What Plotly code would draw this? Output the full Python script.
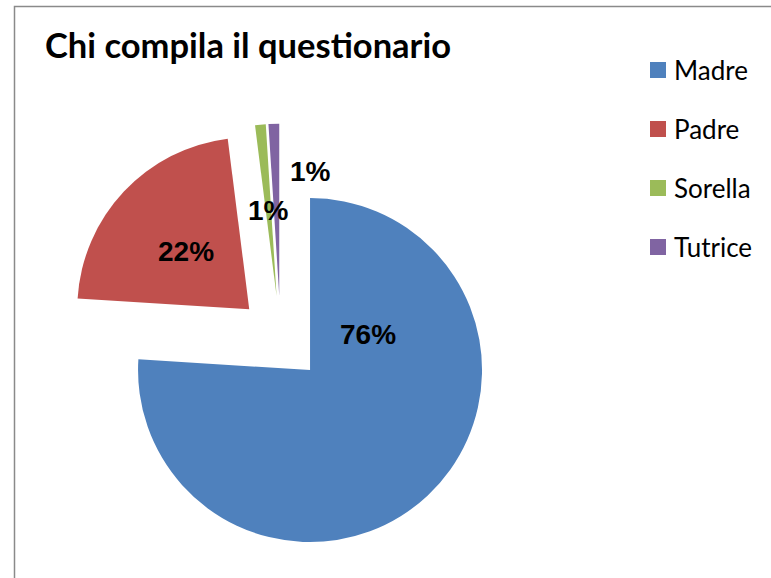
import plotly.graph_objects as go

# Who fills in the questionnaire
labels = ["Madre", "Padre", "Sorella", "Tutrice"]
values = [76, 22, 1, 1]
colors = ["#4F81BD", "#C0504D", "#9BBB59", "#8064A2"]

# where each percentage label sits (paper coordinates)
label_pos = [(368 / 771, 1 - 334 / 578), (186 / 771, 1 - 251 / 578),
             (268 / 771, 1 - 211 / 578), (310 / 771, 1 - 171 / 578)]

W, H = 771, 578

fig = go.Figure(go.Pie(
    labels=labels,
    values=values,
    marker=dict(colors=colors, line=dict(width=0)),
    sort=False,
    direction="clockwise",
    rotation=0,
    pull=[0.25] * len(values),
    textinfo="none",
    showlegend=False,
    domain=dict(x=[0.0851, 0.6428], y=[0.0420, 0.786]),
))

total = sum(values)
annotations = []
for v, (px, py) in zip(values, label_pos):
    annotations.append(dict(
        x=px, y=py, xref="paper", yref="paper",
        text=f"<b>{round(100 * v / total)}%</b>", showarrow=False,
        font=dict(family="Liberation Sans, Arial", size=28, color="black"),
        xanchor="center", yanchor="middle",
    ))

# legend: colour squares with names, one row per category
shapes = []
leg_y0, leg_step = 70, 59
for i, (lab, col) in enumerate(zip(labels, colors)):
    cy = leg_y0 + i * leg_step
    shapes.append(dict(type="rect", xref="paper", yref="paper",
                       x0=650 / W, x1=666 / W,
                       y0=1 - (cy + 8) / H, y1=1 - (cy - 8) / H,
                       fillcolor=col, line=dict(width=0)))
    annotations.append(dict(
        x=672 / W, y=1 - cy / H, xref="paper", yref="paper",
        text=lab, showarrow=False, xanchor="left", yanchor="middle",
        font=dict(family="Lato", size=26, color="black"),
    ))

# chart area frame
shapes.append(dict(type="rect", xref="paper", yref="paper",
                   x0=14.5 / W, x1=1.02, y0=-0.02, y1=1 - 6.5 / H,
                   line=dict(color="#8a8a8a", width=1.5), fillcolor="rgba(0,0,0,0)"))

annotations.append(dict(
    x=43 / W, y=1 - 44 / H, xref="paper", yref="paper",
    text="<b>Chi compila il questionario</b>", showarrow=False,
    xanchor="left", yanchor="middle",
    font=dict(family="Lato", size=34.5, color="black"),
))

fig.update_layout(
    width=W, height=H,
    margin=dict(l=0, r=0, t=0, b=0),
    paper_bgcolor="white",
    plot_bgcolor="white",
    annotations=annotations,
    shapes=shapes,
)

fig.write_html("out.html")
